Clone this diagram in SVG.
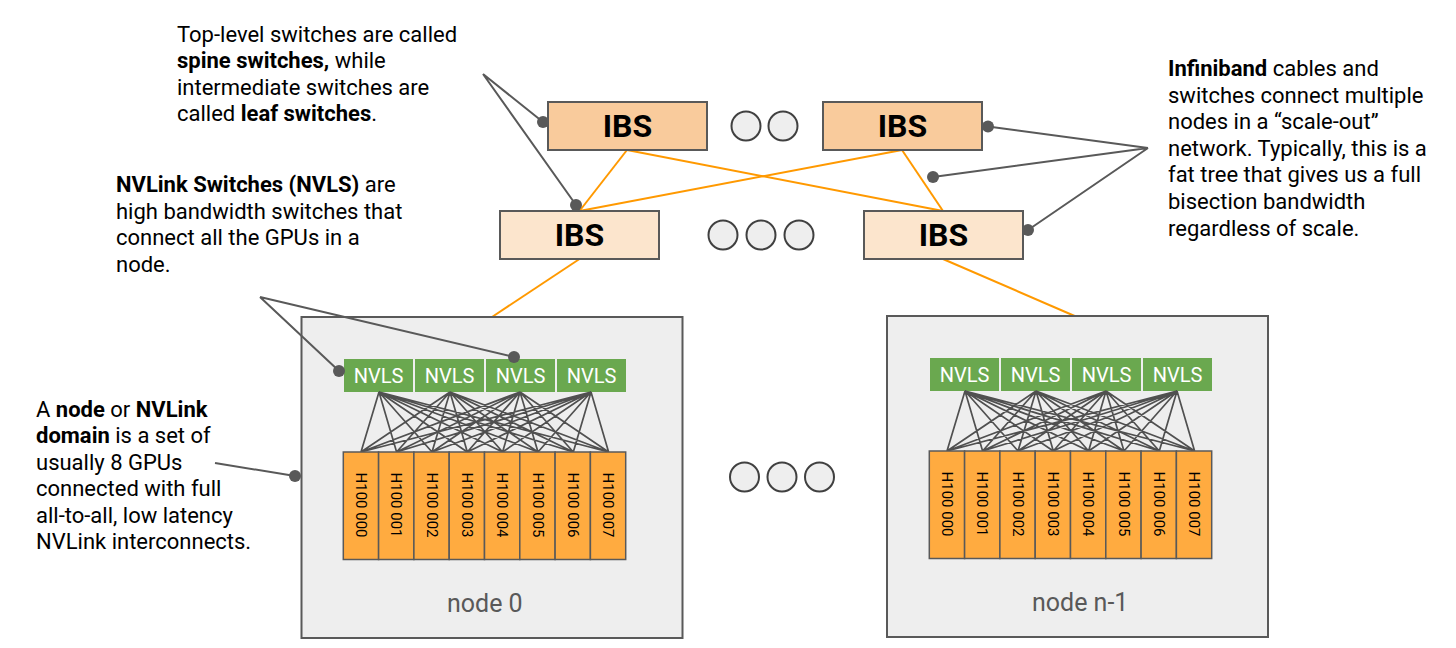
<svg xmlns="http://www.w3.org/2000/svg" width="1456" height="648" viewBox="0 0 1456 648">
<style>
.txt{font-family:Roboto,"Liberation Sans",sans-serif;font-size:22px;fill:#000}
.b{font-weight:bold}
.spine{fill:#f9cb9c;stroke:#595959;stroke-width:2}
.leaf{fill:#fce5cd;stroke:#595959;stroke-width:2}
.ibs{font-family:Roboto,"Liberation Sans",sans-serif;font-size:32px;font-weight:bold;fill:#000;text-anchor:middle}
.dots{fill:#eeeeee;stroke:#404040;stroke-width:2}
.box{fill:#eeeeee;stroke:#595959;stroke-width:2}
.nvls{fill:#6aa84f}
.nvt{font-family:Roboto,"Liberation Sans",sans-serif;font-size:20px;fill:#fff;text-anchor:middle}
.gpu{fill:#ffab40;stroke:#595959;stroke-width:1.5}
.gt{font-family:Roboto,"Liberation Sans",sans-serif;font-size:15px;fill:#000;text-anchor:middle;dominant-baseline:central}
.lbl{font-family:Roboto,"Liberation Sans",sans-serif;font-size:25px;fill:#595959}
.mesh{fill:none;stroke:#505050;stroke-width:1.7}
.ib{fill:none;stroke:#ff9900;stroke-width:2}
.lead{fill:none;stroke:#595959;stroke-width:2}
.pin{fill:#595959}
</style>
<defs>
<g id="nodeInner">
<g class="nvls-row">
<rect class="nvls" x="344" y="359" width="69" height="33"/>
<rect class="nvls" x="415" y="359" width="69" height="33"/>
<rect class="nvls" x="486" y="359" width="69" height="33"/>
<rect class="nvls" x="557" y="359" width="69" height="33"/>
<text class="nvt" x="378.5" y="383">NVLS</text>
<text class="nvt" x="449.5" y="383">NVLS</text>
<text class="nvt" x="520.5" y="383">NVLS</text>
<text class="nvt" x="591.5" y="383">NVLS</text>
</g>
<path class="mesh" d="M379 392L361 452M379 392L396.6 452M379 392L432 452M379 392L467.3 452M379 392L502.6 452M379 392L538 452M379 392L573.3 452M379 392L608.6 452M450 392L361 452M450 392L396.6 452M450 392L432 452M450 392L467.3 452M450 392L502.6 452M450 392L538 452M450 392L573.3 452M450 392L608.6 452M520 392L361 452M520 392L396.6 452M520 392L432 452M520 392L467.3 452M520 392L502.6 452M520 392L538 452M520 392L573.3 452M520 392L608.6 452M591 392L361 452M591 392L396.6 452M591 392L432 452M591 392L467.3 452M591 392L502.6 452M591 392L538 452M591 392L573.3 452M591 392L608.6 452"/>
<g>
<rect class="gpu" x="343.3" y="452" width="35.3" height="107.5"/>
<rect class="gpu" x="378.6" y="452" width="35.3" height="107.5"/>
<rect class="gpu" x="413.9" y="452" width="35.3" height="107.5"/>
<rect class="gpu" x="449.2" y="452" width="35.3" height="107.5"/>
<rect class="gpu" x="484.5" y="452" width="35.3" height="107.5"/>
<rect class="gpu" x="519.8" y="452" width="35.3" height="107.5"/>
<rect class="gpu" x="555.1" y="452" width="35.3" height="107.5"/>
<rect class="gpu" x="590.4" y="452" width="35.3" height="107.5"/>
<text class="gt" transform="translate(361,505) rotate(90)">H100 000</text>
<text class="gt" transform="translate(396.3,505) rotate(90)">H100 001</text>
<text class="gt" transform="translate(431.6,505) rotate(90)">H100 002</text>
<text class="gt" transform="translate(466.9,505) rotate(90)">H100 003</text>
<text class="gt" transform="translate(502.2,505) rotate(90)">H100 004</text>
<text class="gt" transform="translate(537.5,505) rotate(90)">H100 005</text>
<text class="gt" transform="translate(572.8,505) rotate(90)">H100 006</text>
<text class="gt" transform="translate(608.1,505) rotate(90)">H100 007</text>
</g>
</g>
</defs>

<g id="connectors">
<line class="ib" x1="627" y1="150" x2="579.5" y2="211"/>
<line class="ib" x1="627" y1="150" x2="943" y2="211"/>
<line class="ib" x1="902" y1="150" x2="579.5" y2="211"/>
<line class="ib" x1="902" y1="150" x2="943" y2="211"/>
<line class="ib" x1="579.5" y1="259" x2="492" y2="317"/>
<line class="ib" x1="943" y1="259" x2="1077" y2="317"/>
</g>

<g id="spine-ibs-0"><rect class="spine" x="548" y="102" width="159" height="48"/><text class="ibs" x="627.5" y="137">IBS</text></g>
<g id="spine-ibs-1"><rect class="spine" x="823" y="102" width="159" height="48"/><text class="ibs" x="902.5" y="137">IBS</text></g>
<g id="spine-more"><circle class="dots" cx="746" cy="126" r="14.5"/><circle class="dots" cx="783" cy="126" r="14.5"/></g>
<g id="leaf-ibs-0"><rect class="leaf" x="500" y="211" width="159" height="48"/><text class="ibs" x="579.5" y="246">IBS</text></g>
<g id="leaf-ibs-1"><rect class="leaf" x="864" y="211" width="159" height="48"/><text class="ibs" x="943.5" y="246">IBS</text></g>
<g id="leaf-more"><circle class="dots" cx="723" cy="235" r="14.5"/><circle class="dots" cx="761" cy="235" r="14.5"/><circle class="dots" cx="799" cy="235" r="14.5"/></g>

<g id="node-0">
<rect class="box" x="301.5" y="317" width="381" height="321"/>
<use href="#nodeInner"/>
<text class="lbl" x="447" y="612">node 0</text>
</g>
<g id="node-n-1">
<rect class="box" x="887" y="316" width="381" height="321"/>
<use href="#nodeInner" transform="translate(586,-1)"/>
<text class="lbl" x="1032" y="611">node n-1</text>
</g>
<g id="node-more"><circle class="dots" cx="744.5" cy="477" r="14.5"/><circle class="dots" cx="782" cy="477" r="14.5"/><circle class="dots" cx="819.5" cy="477" r="14.5"/></g>

<g id="annotations">
<path class="lead" d="M483 74L543 122M483 74L576 205"/>
<circle class="pin" cx="543" cy="122" r="6"/><circle class="pin" cx="576" cy="205" r="6"/>
<path class="lead" d="M1148 148L988 126.5M1148 148L933 177M1148 148L1028 230"/>
<circle class="pin" cx="988" cy="126.5" r="6"/><circle class="pin" cx="933" cy="177" r="6"/><circle class="pin" cx="1028" cy="230" r="6"/>
<path class="lead" d="M260 297L339 371M260 297L514 357"/>
<circle class="pin" cx="339" cy="371" r="6"/><circle class="pin" cx="514" cy="357" r="6"/>
<path class="lead" d="M215 463L295 476"/>
<circle class="pin" cx="295" cy="476" r="6"/>

<text class="txt" x="177" y="42">Top-level switches are called</text>
<text class="txt" x="177" y="68.3"><tspan class="b">spine switches,</tspan> while</text>
<text class="txt" x="177" y="94.6">intermediate switches are</text>
<text class="txt" x="177" y="120.9">called <tspan class="b">leaf switches</tspan>.</text>

<text class="txt" x="116" y="192"><tspan class="b">NVLink Switches (NVLS)</tspan> are</text>
<text class="txt" x="116" y="218.5">high bandwidth switches that</text>
<text class="txt" x="116" y="245">connect all the GPUs in a</text>
<text class="txt" x="116" y="271.5">node.</text>

<text class="txt" x="1168" y="76"><tspan class="b">Infiniband</tspan> cables and</text>
<text class="txt" x="1168" y="102.6">switches connect multiple</text>
<text class="txt" x="1168" y="129.2">nodes in a “scale-out”</text>
<text class="txt" x="1168" y="155.8">network. Typically, this is a</text>
<text class="txt" x="1168" y="182.4">fat tree that gives us a full</text>
<text class="txt" x="1168" y="209">bisection bandwidth</text>
<text class="txt" x="1168" y="235.6">regardless of scale.</text>

<text class="txt" x="36" y="417"><tspan>A </tspan><tspan class="b">node</tspan> or <tspan class="b">NVLink</tspan></text>
<text class="txt" x="36" y="443.4"><tspan class="b">domain</tspan> is a set of</text>
<text class="txt" x="36" y="469.8">usually 8 GPUs</text>
<text class="txt" x="36" y="496.2">connected with full</text>
<text class="txt" x="36" y="522.6">all-to-all, low latency</text>
<text class="txt" x="36" y="549">NVLink interconnects.</text>
</g>
</svg>
